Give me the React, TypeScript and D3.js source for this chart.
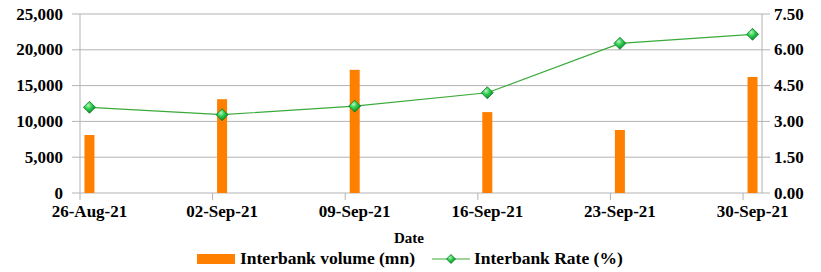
import React from "react";
import * as d3 from "d3";

const dates = ["2021-08-26", "2021-09-02", "2021-09-09", "2021-09-16", "2021-09-23", "2021-09-30"];
const volume = [8100, 13100, 17200, 11300, 8800, 16200];
const rate = [3.59, 3.28, 3.64, 4.2, 6.27, 6.65];
const leftTicks = [0, 5000, 10000, 15000, 20000, 25000];
const rightTicks = [0, 1.5, 3, 4.5, 6, 7.5];
const seriesNames = ["Interbank volume (mn)", "Interbank Rate (%)"];

const W = 821, H = 272;
const L = 80, R = 762, T = 14, B = 193;

export default function App() {
  const parse = d3.utcParse("%Y-%m-%d");
  const ds = dates.map((d) => parse(d) as Date);
  const x = d3.scaleUtc().domain([ds[0], d3.utcDay.offset(ds[ds.length - 1], 1)]).range([L, R]);
  const yL = d3.scaleLinear().domain([0, 25000]).range([B, T]);
  const yR = d3.scaleLinear().domain([0, 7.5]).range([B, T]);
  const fmt = d3.utcFormat("%d-%b-%y");
  const center = (d: Date) => x(d3.utcHour.offset(d, 12));
  const bw = 10;
  const line = d3.line<number>().x((_, i) => center(ds[i])).y((v) => yR(v));
  const grid = "#b3b3b3";
  const diamond = (cx: number, cy: number, r: number, key?: any) => (
    <path key={key} d={`M${cx},${cy - r}L${cx + r},${cy}L${cx},${cy + r}L${cx - r},${cy}Z`} fill="url(#dg)" stroke="#0d7a2a" strokeWidth={0.8} />
  );
  const ts: React.CSSProperties = { fontFamily: "'Liberation Serif'", fontWeight: "bold" };
  return (
    <svg width={W} height={H} style={{ position: "absolute", left: 0, top: 0, background: "#fff" }}>
      <defs>
        <radialGradient id="dg" cx="40%" cy="35%" r="70%">
          <stop offset="0%" stopColor="#b8f5c0" />
          <stop offset="40%" stopColor="#2fcf4f" />
          <stop offset="100%" stopColor="#0a7a25" />
        </radialGradient>
      </defs>
      {leftTicks.map((t) => (
        <line key={"g" + t} x1={L - 8} x2={R + 8} y1={yL(t)} y2={yL(t)} stroke={grid} strokeWidth={1} />
      ))}
      <line x1={L} x2={L} y1={T} y2={B} stroke={grid} />
      <line x1={R} x2={R} y1={T} y2={B} stroke={grid} />
      {ds.map((d, i) => (
        <line key={"xt" + i} x1={x(d)} x2={x(d)} y1={B} y2={B + 7} stroke={grid} />
      ))}
      {ds.map((d, i) => (
        <rect key={"b" + i} x={center(d) - bw / 2} y={yL(volume[i])} width={bw} height={B - yL(volume[i])} fill="#ff8000" />
      ))}
      <path d={line(rate) || ""} fill="none" stroke="#3aaa3a" strokeWidth={1.2} />
      {ds.map((d, i) => diamond(center(d), yR(rate[i]), 6, "m" + i))}
      {leftTicks.map((t) => (
        <text key={"lt" + t} x={63} y={yL(t)} dy="0.33em" textAnchor="end" fontSize={17} style={ts}>
          {d3.format(",")(t)}
        </text>
      ))}
      {rightTicks.map((t) => (
        <text key={"rt" + t} x={774} y={yR(t)} dy="0.33em" textAnchor="start" fontSize={17} style={ts}>
          {t.toFixed(2)}
        </text>
      ))}
      {ds.map((d, i) => (
        <text key={"xl" + i} x={center(d)} y={211} dy="0.33em" textAnchor="middle" fontSize={17} style={ts}>
          {fmt(d)}
        </text>
      ))}
      <text x={409} y={238} dy="0.33em" textAnchor="middle" fontSize={15} style={ts}>Date</text>
      <rect x={197} y={254} width={38} height={10} fill="#ff8000" />
      <text x={240} y={258} dy="0.33em" fontSize={17.5} style={ts}>{seriesNames[0]}</text>
      <line x1={432} x2={470} y1={259} y2={259} stroke="#3aaa3a" strokeWidth={1.2} />
      {diamond(451, 259, 4.5)}
      <text x={474} y={258} dy="0.33em" fontSize={17.5} style={ts}>{seriesNames[1]}</text>
    </svg>
  );
}
